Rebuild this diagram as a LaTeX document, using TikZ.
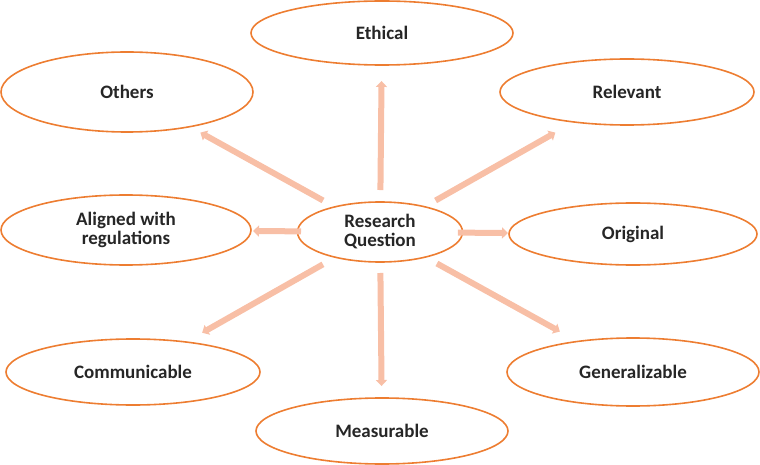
\documentclass[tikz,border=0pt]{standalone}
\usepackage{fontspec}
\setmainfont{Carlito}
\usepackage{tikz}
\usetikzlibrary{shapes.geometric,arrows.meta,calc}
\definecolor{rqorange}{HTML}{ED7D31}
\definecolor{rqsalmon}{HTML}{F8BFA6}
\definecolor{rqtext}{HTML}{262626}

\begin{document}
\begin{tikzpicture}[x=1pt,y=-1pt,
  oval/.style={ellipse, draw=rqorange, line width=1.6pt, inner sep=0pt, text=rqtext,
    font=\fontsize{19}{19}\selectfont\bfseries, align=center},
  spoke/.style={draw=rqsalmon, line width=6pt, -{Triangle[width=11pt,length=6pt]}}]
  \useasboundingbox (0,0) rectangle (760,465);
  % centre
  \node[oval, minimum width=165pt, minimum height=60pt] (rq) at (380,232) {Research\\Question};
  % the eight qualities
  \node[oval, minimum width=262pt, minimum height=64pt] (ethical) at (382,33) {Ethical};
  \node[oval, minimum width=252pt, minimum height=80pt] (others) at (127,92) {Others};
  \node[oval, minimum width=254pt, minimum height=66pt] (relevant) at (627,92) {Relevant};
  \node[oval, minimum width=250pt, minimum height=70pt] (aligned) at (126,230) {Aligned with\\regulations};
  \node[oval, minimum width=248pt, minimum height=62pt] (original) at (633,234) {Original};
  \node[oval, minimum width=254pt, minimum height=66pt] (communicable) at (133,372) {Communicable};
  \node[oval, minimum width=252pt, minimum height=68pt] (generalizable) at (633,372) {Generalizable};
  \node[oval, minimum width=252pt, minimum height=66pt] (measurable) at (382,431) {Measurable};
  % spokes
  \draw[spoke] ($(rq)!0.211!(ethical)$) -- ($(rq)!0.759!(ethical)$);
  \draw[spoke] ($(rq)!0.225!(others)$) -- ($(rq)!0.71!(others)$);
  \draw[spoke] ($(rq)!0.225!(relevant)$) -- ($(rq)!0.71!(relevant)$);
  \draw[spoke] ($(rq)!0.311!(aligned)$) -- ($(rq)!0.5!(aligned)$);
  \draw[spoke] ($(rq)!0.308!(original)$) -- ($(rq)!0.506!(original)$);
  \draw[spoke] ($(rq)!0.231!(communicable)$) -- ($(rq)!0.72!(communicable)$);
  \draw[spoke] ($(rq)!0.225!(generalizable)$) -- ($(rq)!0.711!(generalizable)$);
  \draw[spoke] ($(rq)!0.206!(measurable)$) -- ($(rq)!0.774!(measurable)$);
\end{tikzpicture}
\end{document}
